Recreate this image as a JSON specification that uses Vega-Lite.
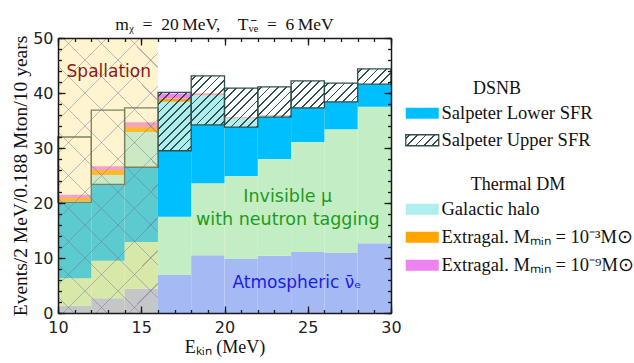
{
"$schema": "https://vega.github.io/schema/vega-lite/v6.json",
"width": 333, "height": 275,
"autosize": {"type": "none"},
"padding": {"left": 58, "top": 38, "right": 243, "bottom": 50},
"background": "white",
"params": [
{"name": "hatch", "value": [
{"offset":0,"color":"rgba(47,79,79,0)"},
{"offset":0.031,"color":"rgba(47,79,79,0)"},{"offset":0.031,"color":"#2f4f4f"},{"offset":0.049,"color":"#2f4f4f"},{"offset":0.049,"color":"rgba(47,79,79,0)"},
{"offset":0.114,"color":"rgba(47,79,79,0)"},{"offset":0.114,"color":"#2f4f4f"},{"offset":0.132,"color":"#2f4f4f"},{"offset":0.132,"color":"rgba(47,79,79,0)"},
{"offset":0.197,"color":"rgba(47,79,79,0)"},{"offset":0.197,"color":"#2f4f4f"},{"offset":0.215,"color":"#2f4f4f"},{"offset":0.215,"color":"rgba(47,79,79,0)"},
{"offset":0.280,"color":"rgba(47,79,79,0)"},{"offset":0.280,"color":"#2f4f4f"},{"offset":0.298,"color":"#2f4f4f"},{"offset":0.298,"color":"rgba(47,79,79,0)"},
{"offset":0.363,"color":"rgba(47,79,79,0)"},{"offset":0.363,"color":"#2f4f4f"},{"offset":0.381,"color":"#2f4f4f"},{"offset":0.381,"color":"rgba(47,79,79,0)"},
{"offset":0.446,"color":"rgba(47,79,79,0)"},{"offset":0.446,"color":"#2f4f4f"},{"offset":0.464,"color":"#2f4f4f"},{"offset":0.464,"color":"rgba(47,79,79,0)"},
{"offset":0.529,"color":"rgba(47,79,79,0)"},{"offset":0.529,"color":"#2f4f4f"},{"offset":0.547,"color":"#2f4f4f"},{"offset":0.547,"color":"rgba(47,79,79,0)"},
{"offset":0.612,"color":"rgba(47,79,79,0)"},{"offset":0.612,"color":"#2f4f4f"},{"offset":0.630,"color":"#2f4f4f"},{"offset":0.630,"color":"rgba(47,79,79,0)"},
{"offset":0.695,"color":"rgba(47,79,79,0)"},{"offset":0.695,"color":"#2f4f4f"},{"offset":0.713,"color":"#2f4f4f"},{"offset":0.713,"color":"rgba(47,79,79,0)"},
{"offset":0.778,"color":"rgba(47,79,79,0)"},{"offset":0.778,"color":"#2f4f4f"},{"offset":0.796,"color":"#2f4f4f"},{"offset":0.796,"color":"rgba(47,79,79,0)"},
{"offset":0.861,"color":"rgba(47,79,79,0)"},{"offset":0.861,"color":"#2f4f4f"},{"offset":0.879,"color":"#2f4f4f"},{"offset":0.879,"color":"rgba(47,79,79,0)"},
{"offset":0.944,"color":"rgba(47,79,79,0)"},{"offset":0.944,"color":"#2f4f4f"},{"offset":0.962,"color":"#2f4f4f"},{"offset":0.962,"color":"rgba(47,79,79,0)"},
{"offset":1,"color":"rgba(47,79,79,0)"}
]},
{"name": "xstops", "value": [
{"offset":0,"color":"rgba(120,105,150,0)"},
{"offset":0.0405,"color":"rgba(120,105,150,0)"},{"offset":0.0405,"color":"rgba(120,105,150,0.45)"},{"offset":0.0448,"color":"rgba(120,105,150,0.45)"},{"offset":0.0448,"color":"rgba(120,105,150,0)"},
{"offset":0.1285,"color":"rgba(120,105,150,0)"},{"offset":0.1285,"color":"rgba(120,105,150,0.45)"},{"offset":0.1328,"color":"rgba(120,105,150,0.45)"},{"offset":0.1328,"color":"rgba(120,105,150,0)"},
{"offset":0.2165,"color":"rgba(120,105,150,0)"},{"offset":0.2165,"color":"rgba(120,105,150,0.45)"},{"offset":0.2208,"color":"rgba(120,105,150,0.45)"},{"offset":0.2208,"color":"rgba(120,105,150,0)"},
{"offset":0.3045,"color":"rgba(120,105,150,0)"},{"offset":0.3045,"color":"rgba(120,105,150,0.45)"},{"offset":0.3088,"color":"rgba(120,105,150,0.45)"},{"offset":0.3088,"color":"rgba(120,105,150,0)"},
{"offset":0.3925,"color":"rgba(120,105,150,0)"},{"offset":0.3925,"color":"rgba(120,105,150,0.45)"},{"offset":0.3968,"color":"rgba(120,105,150,0.45)"},{"offset":0.3968,"color":"rgba(120,105,150,0)"},
{"offset":0.4805,"color":"rgba(120,105,150,0)"},{"offset":0.4805,"color":"rgba(120,105,150,0.45)"},{"offset":0.4848,"color":"rgba(120,105,150,0.45)"},{"offset":0.4848,"color":"rgba(120,105,150,0)"},
{"offset":0.5685,"color":"rgba(120,105,150,0)"},{"offset":0.5685,"color":"rgba(120,105,150,0.45)"},{"offset":0.5728,"color":"rgba(120,105,150,0.45)"},{"offset":0.5728,"color":"rgba(120,105,150,0)"},
{"offset":0.6565,"color":"rgba(120,105,150,0)"},{"offset":0.6565,"color":"rgba(120,105,150,0.45)"},{"offset":0.6608,"color":"rgba(120,105,150,0.45)"},{"offset":0.6608,"color":"rgba(120,105,150,0)"},
{"offset":0.7445,"color":"rgba(120,105,150,0)"},{"offset":0.7445,"color":"rgba(120,105,150,0.45)"},{"offset":0.7488,"color":"rgba(120,105,150,0.45)"},{"offset":0.7488,"color":"rgba(120,105,150,0)"},
{"offset":0.8325,"color":"rgba(120,105,150,0)"},{"offset":0.8325,"color":"rgba(120,105,150,0.45)"},{"offset":0.8368,"color":"rgba(120,105,150,0.45)"},{"offset":0.8368,"color":"rgba(120,105,150,0)"},
{"offset":0.9205,"color":"rgba(120,105,150,0)"},{"offset":0.9205,"color":"rgba(120,105,150,0.45)"},{"offset":0.9248,"color":"rgba(120,105,150,0.45)"},{"offset":0.9248,"color":"rgba(120,105,150,0)"},
{"offset":1,"color":"rgba(120,105,150,0)"}
]}
],
"datasets": {
"bins": [
{"lo":10,"hi":12,"atm":1.3,"inv":5.0,"lower":13.8,"halo":0.2,"ex3":0.6,"ex9":0.6,"upper":32.0},
{"lo":12,"hi":14,"atm":2.7,"inv":6.8,"lower":13.9,"halo":1.7,"ex3":0.9,"ex9":0.7,"upper":36.9},
{"lo":14,"hi":16,"atm":4.4,"inv":8.5,"lower":13.6,"halo":6.4,"ex3":0.9,"ex9":0.9,"upper":37.3},
{"lo":16,"hi":18,"atm":6.9,"inv":10.6,"lower":12.0,"halo":8.9,"ex3":0.6,"ex9":0.9,"upper":40.1},
{"lo":18,"hi":20,"atm":10.5,"inv":13.1,"lower":10.6,"halo":5.4,"ex3":0.15,"ex9":0.15,"upper":43.1},
{"lo":20,"hi":22,"atm":9.8,"inv":15.1,"lower":8.9,"halo":1.6,"ex3":0.1,"ex9":0.1,"upper":40.9},
{"lo":22,"hi":24,"atm":10.4,"inv":17.6,"lower":7.6,"halo":0.3,"ex3":0.05,"ex9":0.05,"upper":41.1},
{"lo":24,"hi":26,"atm":11.1,"inv":20.0,"lower":6.2,"halo":0.1,"ex3":0,"ex9":0,"upper":42.2},
{"lo":26,"hi":28,"atm":10.9,"inv":22.5,"lower":5.0,"halo":0.05,"ex3":0,"ex9":0,"upper":41.8},
{"lo":28,"hi":30,"atm":12.7,"inv":24.8,"lower":4.1,"halo":0,"ex3":0,"ex9":0,"upper":44.4}
],
"one": [{"region":"spallation"}]
},
"title": {"text": "m\u1d6a\u2002=\u200220\u2009MeV,\u2003T\u1d65\u0304\u2091\u2002=\u20026\u2009MeV", "font": "Liberation Serif", "fontSize": 17.5, "fontWeight": "normal", "anchor": "middle", "frame": "group", "offset": -3, "color": "#111"},
"layer": [
{
"data": {"name": "bins"},
"transform": [{"fold": ["atm","inv","lower","halo","ex3","ex9"], "as": ["comp","n"]}, {"stack": "n", "groupby": ["lo"], "as": ["y0","y1"]}, {"filter": "datum.comp == 'atm' || datum.comp == 'inv'"}],
"mark": {"type": "rect"},
"encoding": {
"x": {"field": "lo", "type": "quantitative", "scale": {"domain": [10,30], "nice": false, "zero": false}, "axis": {"orient": "bottom", "values": [10,15,20,25,30], "ticks": false, "domain": true, "labelPadding": 6, "labelFlush": false, "title": "E\u2096\u1d62\u2099 (MeV)", "titleFontSize": 18, "titlePadding": 3, "zindex": 1}},
"x2": {"field": "hi"},
"y": {"field": "y0", "type": "quantitative", "scale": {"domain": [0,50], "nice": false}, "axis": {"orient": "left", "values": [0,10,20,30,40,50], "ticks": false, "domain": true, "labelPadding": 5, "labelFlush": false, "title": "Events/2 MeV/0.188 Mton/10 years", "titleFontSize": 19.5, "titlePadding": 2, "zindex": 1}},
"y2": {"field": "y1"},
"fill": {"field": "comp", "type": "nominal", "scale": {"domain": ["atm","inv"], "range": ["#a5b9f5","#c3eec3"]}, "legend": null}
}
},
{
"data": {"name": "bins"},
"transform": [{"fold": ["atm","inv","lower","halo","ex3","ex9"], "as": ["comp","n"]}, {"stack": "n", "groupby": ["lo"], "as": ["y0","y1"]}, {"filter": "datum.comp == 'lower'"}],
"mark": {"type": "rect"},
"encoding": {
"x": {"field": "lo", "type": "quantitative", "axis": {"orient": "bottom", "values": [10,15,20,25,30], "labels": false, "domain": false, "tickSize": -7, "title": null, "zindex": 1}},
"x2": {"field": "hi"},
"y": {"field": "y0", "type": "quantitative", "axis": {"orient": "left", "values": [0,10,20,30,40,50], "labels": false, "domain": false, "tickSize": -7, "title": null, "zindex": 1}},
"y2": {"field": "y1"},
"fill": {"field": "comp", "type": "nominal", "scale": {"domain": ["lower","upper"], "range": ["#00bfff", {"expr": "{gradient: 'linear', x1: 0, y1: 0, x2: 2.727, y2: 0.909, stops: hatch}"}]},
"legend": {"orient": "none", "legendX": 344, "legendY": 42, "padding": 0, "title": "DSNB", "titleFont": "Liberation Serif", "titleFontSize": 18, "titleFontWeight": "normal", "titleAnchor": "middle", "titlePadding": 6, "labelFont": "Liberation Serif", "labelFontSize": 18.5, "labelOffset": 21, "labelLimit": 300, "labelColor": "#111", "titleColor": "#111", "rowPadding": 8, "symbolType": "M-1,-1H5V1H-1Z", "symbolSize": 121,
"labelExpr": "datum.value == 'lower' ? 'Salpeter Lower SFR' : 'Salpeter Upper SFR'",
"encode": {"symbols": {"update": {
"stroke": [{"test": "datum.value == 'upper'", "value": "#2f4f4f"}, {"value": "transparent"}],
"strokeWidth": {"value": 1.3}, "opacity": {"value": 1}}}}}}
}
},
{
"data": {"name": "bins"},
"transform": [{"fold": ["atm","inv","lower","halo","ex3","ex9"], "as": ["comp","n"]}, {"stack": "n", "groupby": ["lo"], "as": ["y0","y1"]}, {"filter": "datum.comp == 'halo' || datum.comp == 'ex3' || datum.comp == 'ex9'"}],
"mark": {"type": "rect"},
"encoding": {
"x": {"field": "lo", "type": "quantitative", "axis": {"orient": "bottom", "values": [10,11,12,13,14,15,16,17,18,19,20,21,22,23,24,25,26,27,28,29,30], "labels": false, "domain": false, "tickSize": -3.5, "title": null, "zindex": 1}},
"x2": {"field": "hi"},
"y": {"field": "y0", "type": "quantitative", "axis": {"orient": "left", "values": [0,2,4,6,8,10,12,14,16,18,20,22,24,26,28,30,32,34,36,38,40,42,44,46,48,50], "labels": false, "domain": false, "tickSize": -3.5, "title": null, "zindex": 1}},
"y2": {"field": "y1"},
"fill": {"field": "comp", "type": "nominal", "scale": {"domain": ["halo","ex3","ex9"], "range": ["#afeeee","#ffa500","#ee82ee"]},
"legend": {"orient": "none", "legendX": 344, "legendY": 138, "padding": 0, "title": "Thermal DM", "titleFont": "Liberation Serif", "titleFontSize": 18, "titleFontWeight": "normal", "titleAnchor": "middle", "titlePadding": 6, "labelFont": "Liberation Serif", "labelFontSize": 18.5, "labelOffset": 21, "labelLimit": 300, "labelColor": "#111", "titleColor": "#111", "rowPadding": 9, "symbolType": "M-1,-1H5V1H-1Z", "symbolSize": 121, "symbolStrokeWidth": 0, "symbolOpacity": 1,
"labelExpr": "datum.value == 'halo' ? 'Galactic halo' : datum.value == 'ex3' ? 'Extragal. M\u2098\u1d62\u2099 = 10\u207b\u00b3M\u2299' : 'Extragal. M\u2098\u1d62\u2099 = 10\u207b\u2079M\u2299'"}}
}
},
{
"data": {"name": "bins"},
"transform": [{"fold": ["atm","inv","lower","halo","ex3","ex9"], "as": ["comp","n"]}, {"stack": "n", "groupby": ["lo"], "as": ["y0","y1"]}, {"filter": "datum.comp == 'lower'"}],
"mark": {"type": "rect", "stroke": "#2f4f4f", "strokeWidth": 1.3},
"encoding": {
"x": {"field": "lo", "type": "quantitative", "axis": {"orient": "top", "values": [10,15,20,25,30], "labels": false, "domain": true, "tickSize": -7, "title": null, "zindex": 1}},
"x2": {"field": "hi"},
"y": {"field": "y1", "type": "quantitative", "axis": {"orient": "right", "values": [0,10,20,30,40,50], "labels": false, "domain": true, "tickSize": -7, "title": null, "zindex": 1}},
"y2": {"field": "upper"},
"fill": {"value": {"expr": "datum.lo < 16 ? 'transparent' : {gradient: 'linear', x1: 0, y1: 0, x2: 100*(scale('x', datum.hi) - scale('x', datum.lo)) / (pow(scale('x', datum.hi) - scale('x', datum.lo), 2) + pow(scale('y', datum.y1) - scale('y', datum.upper), 2)), y2: 100*(scale('y', datum.y1) - scale('y', datum.upper)) / (pow(scale('x', datum.hi) - scale('x', datum.lo), 2) + pow(scale('y', datum.y1) - scale('y', datum.upper), 2)), stops: hatch}"}}
}
},
{
"data": {"name": "one"},
"mark": {"type": "rect", "fill": "#fbe17a", "opacity": 0.36},
"encoding": {
"x": {"datum": 10, "type": "quantitative", "axis": {"orient": "top", "values": [10,11,12,13,14,15,16,17,18,19,20,21,22,23,24,25,26,27,28,29,30], "labels": false, "domain": false, "tickSize": -3.5, "title": null, "zindex": 1}},
"x2": {"datum": 16},
"y": {"datum": 0, "type": "quantitative", "axis": {"orient": "right", "values": [0,2,4,6,8,10,12,14,16,18,20,22,24,26,28,30,32,34,36,38,40,42,44,46,48,50], "labels": false, "domain": false, "tickSize": -3.5, "title": null, "zindex": 1}},
"y2": {"datum": 50}
}
},
{
"data": {"name": "one"},
"mark": {"type": "rect", "fill": {"expr": "{gradient: 'linear', x1: 0, y1: 0, x2: 0.438, y2: 1.204, stops: xstops}"}},
"encoding": {
"x": {"datum": 10, "type": "quantitative", "axis": null},
"x2": {"datum": 16},
"y": {"datum": 0, "type": "quantitative", "axis": null},
"y2": {"datum": 50}
}
},
{
"data": {"name": "one"},
"mark": {"type": "rect", "fill": {"expr": "{gradient: 'linear', x1: 0, y1: 1, x2: 0.438, y2: -0.204, stops: xstops}"}},
"encoding": {
"x": {"datum": 10, "type": "quantitative", "axis": null},
"x2": {"datum": 16},
"y": {"datum": 0, "type": "quantitative", "axis": null},
"y2": {"datum": 50}
}
},
{
"data": {"name": "one"},
"mark": {"type": "text", "text": "Spallation", "font": "DejaVu Sans", "fontSize": 17, "color": "#8b1a1a", "align": "center", "baseline": "middle"},
"encoding": {"x": {"datum": 13.05, "type": "quantitative", "axis": null}, "y": {"datum": 43.8, "type": "quantitative", "axis": null}}
},
{
"data": {"name": "one"},
"mark": {"type": "text", "text": ["Invisible \u03bc", "with neutron tagging"], "lineHeight": 23, "font": "DejaVu Sans", "fontSize": 17.5, "color": "#1f9a1f", "align": "center", "baseline": "middle"},
"encoding": {"x": {"datum": 23.8, "type": "quantitative", "axis": null}, "y": {"datum": 21.1, "type": "quantitative", "axis": null}}
},
{
"data": {"name": "one"},
"mark": {"type": "text", "text": "Atmospheric \u03bd\u0304\u2091", "font": "DejaVu Sans", "fontSize": 17, "color": "#1c1ce6", "align": "center", "baseline": "middle"},
"encoding": {"x": {"datum": 24.35, "type": "quantitative", "axis": null}, "y": {"datum": 5.45, "type": "quantitative", "axis": null}}
}
],
"resolve": {"axis": {"x": "independent", "y": "independent"}, "scale": {"fill": "independent"}, "legend": {"fill": "independent"}},
"config": {
"view": {"stroke": null},
"axis": {"grid": false, "domainColor": "#1a1a1a", "domainWidth": 1.5, "tickColor": "#1a1a1a", "tickWidth": 1.3, "labelFont": "DejaVu Sans", "labelFontSize": 16, "labelColor": "#222", "titleFont": "Liberation Serif", "titleFontSize": 17, "titleFontWeight": "normal", "titleColor": "#111"},
"text": {"font": "DejaVu Sans"}
}
}
